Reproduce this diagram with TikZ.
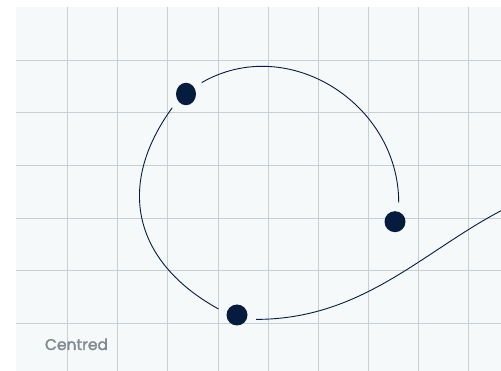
\documentclass[tikz,border=0pt]{standalone}
\usepackage{fontspec}
\newfontfamily\capfont[FakeBold=1.8]{Poppins}
\usetikzlibrary{positioning,shapes.geometric}
\definecolor{paper}{RGB}{246,249,250}
\definecolor{gridc}{RGB}{201,206,211}
\definecolor{navy}{RGB}{6,28,62}
\definecolor{capgray}{RGB}{128,137,146}
\tikzset{
  dot/.style={circle,fill=navy,minimum size=21pt,inner sep=0pt,outer sep=9pt},
  tall dot/.style={dot,ellipse,minimum width=20pt,minimum height=22.5pt},
  wire/.style={draw=navy,line width=0.9pt},
  gridline/.style={draw=gridc,line width=1pt},
  caption/.style={font=\capfont\fontsize{15.5}{18}\selectfont,text=capgray,inner sep=0pt},
}

\begin{document}
\begin{tikzpicture}[x=1pt,y=-1pt]
\useasboundingbox (0,0) rectangle (501,371);
% paper and grid
\fill[paper] (16,7) rectangle (501,371);
\foreach \i in {1,...,9}
  \draw[gridline] (17.8+50.06*\i,7) -- (17.8+50.06*\i,371);
\foreach \j in {1,...,6}
  \draw[gridline] (16,7.6+52.68*\j) -- (501,7.6+52.68*\j);
% the three points
\node[tall dot] (p1) at (186,94) {};
\node[dot] (p2) at (395,221.7) {};
\node[dot] (p3) at (237,315) {};
\coordinate (tail) at (619,180);
% the path, broken at every point
\begin{scope}
  \clip (16,7) rectangle (501,371);
  \draw[wire] (p1.36) to[out=30,in=90,looseness=1.1] (p2.79);
  \draw[wire] (p1.225) to[out=234,in=151,looseness=1.2] (p3.162);
  \draw[wire] (p3.-13) to[out=0,in=180] (tail);
\end{scope}
\node[caption,anchor=base] (cap) at (76.5,350) {Centred};
\end{tikzpicture}
\end{document}
